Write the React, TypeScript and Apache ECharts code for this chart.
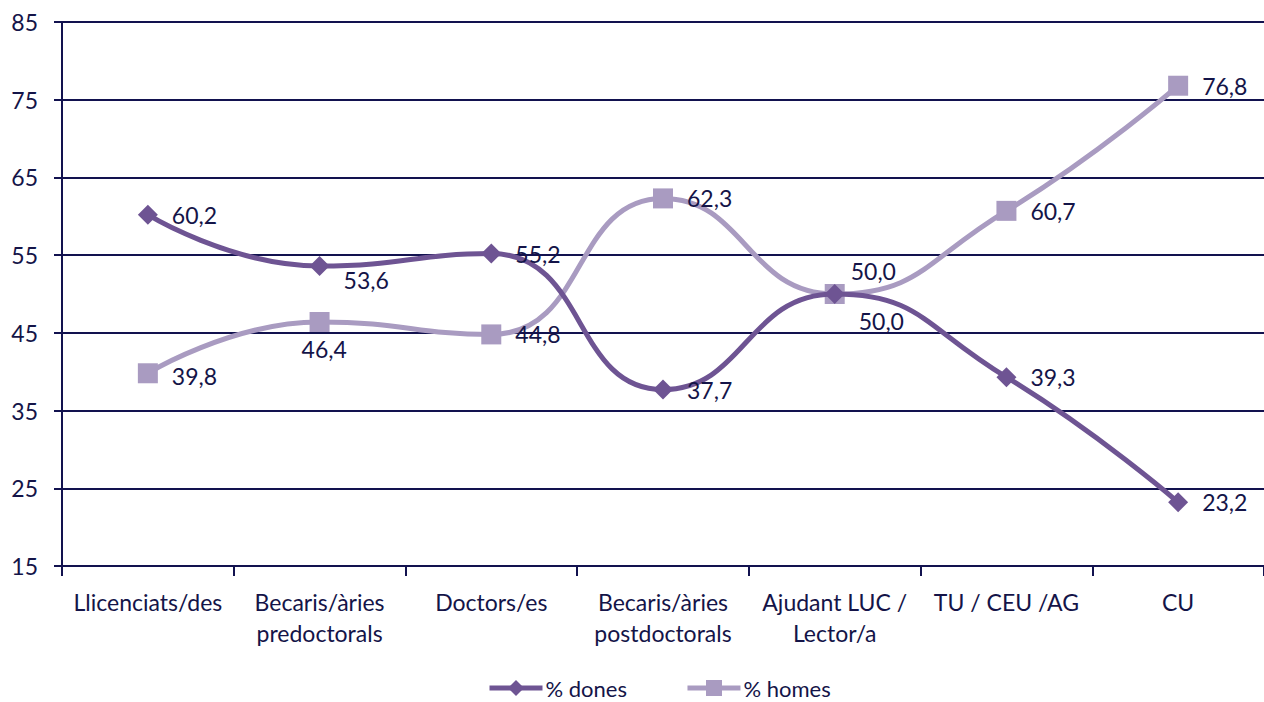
import React, { useEffect, useRef } from "react";
import * as echarts from "echarts";

const categories = [
  "Llicenciats/des",
  "Becaris/àries\npredoctorals",
  "Doctors/es",
  "Becaris/àries\npostdoctorals",
  "Ajudant LUC /\nLector/a",
  "TU / CEU /AG",
  "CU",
];
const dones = [60.2, 53.6, 55.2, 37.7, 50.0, 39.3, 23.2];
const homes = [39.8, 46.4, 44.8, 62.3, 50.0, 60.7, 76.8];
const yTicks = [15, 25, 35, 45, 55, 65, 75, 85];

const BASE = yTicks[0];
const NAVY = "#12124F";
const TEXT = "#141448";
const DARK = "#6E5493";
const LIGHT = "#A99BC1";
const FONT = "Lato";
const FS = 23;

const donesOffsets: Record<number, number[]> = { 1: [0, 14], 4: [0, 27] };
const homesOffsets: Record<number, number[]> = { 0: [0, 3], 1: [-42, 27], 4: [-8, -23] };

const fmt = (v: number) => v.toFixed(1).replace(".", ",");

export default function App() {
  const ref = useRef<HTMLDivElement>(null);
  useEffect(() => {
    if (!ref.current) return;
    const chart = echarts.init(ref.current, undefined, { renderer: "svg" });
    const mk = (vals: number[], offs: Record<number, number[]>) =>
      vals.map((v, i) => ({
        value: v - BASE,
        label: offs[i] ? { offset: offs[i] } : undefined,
      }));
    const labelBase = (vals: number[]) => ({
      show: true,
      position: "right" as const,
      distance: 14,
      color: TEXT,
      fontSize: FS,
      fontFamily: FONT,
      formatter: (p: any) => fmt(vals[p.dataIndex]),
    });
    chart.setOption({
      animation: false,
      textStyle: { fontFamily: FONT },
      grid: { left: 62, top: 22, width: 1209, height: 544, containLabel: false },
      legend: {
        top: 677,
        left: 487,
        padding: 0,
        itemWidth: 53,
        itemHeight: 20,
        itemGap: 58,
        lineStyle: { width: 5 },
        textStyle: { color: TEXT, fontSize: 22, lineHeight: 22, fontFamily: FONT, padding: [0, 0, 0, -2] },
        data: ["% dones", "% homes"],
      },
      xAxis: {
        type: "category",
        data: categories,
        boundaryGap: true,
        axisLine: { show: true, lineStyle: { color: NAVY, width: 2 } },
        axisTick: { show: true, length: 10, interval: 0, lineStyle: { color: NAVY, width: 2 } },
        axisLabel: {
          interval: 0,
          color: TEXT,
          fontSize: FS,
          fontFamily: FONT,
          lineHeight: 31,
          margin: 20,
        },
        splitLine: { show: false },
      },
      yAxis: {
        type: "value",
        min: 0,
        max: yTicks[yTicks.length - 1] - BASE,
        interval: 10,
        axisLine: { show: true, lineStyle: { color: NAVY, width: 2 } },
        axisTick: { show: true, length: 8, lineStyle: { color: NAVY, width: 2 } },
        axisLabel: {
          color: TEXT,
          fontSize: FS,
          fontFamily: FONT,
          margin: 24,
          formatter: (v: number) => String(v + BASE),
        },
        splitLine: { show: true, lineStyle: { color: NAVY, width: 2 } },
      },
      series: [
        {
          name: "% dones",
          type: "line",
          smooth: 0.5,
          data: mk(dones, donesOffsets),
          symbol: "diamond",
          symbolSize: 20,
          itemStyle: { color: DARK },
          lineStyle: { color: DARK, width: 5 },
          label: labelBase(dones),
          z: 3,
        },
        {
          name: "% homes",
          type: "line",
          smooth: 0.5,
          data: mk(homes, homesOffsets),
          symbol: "rect",
          symbolSize: 20,
          itemStyle: { color: LIGHT },
          lineStyle: { color: LIGHT, width: 5 },
          label: labelBase(homes),
          z: 2,
        },
      ],
    });
    return () => chart.dispose();
  }, []);
  return (
    <div
      ref={ref}
      style={{ position: "fixed", left: 0, top: 0, width: 1264, height: 702, background: "#fff" }}
    />
  );
}
